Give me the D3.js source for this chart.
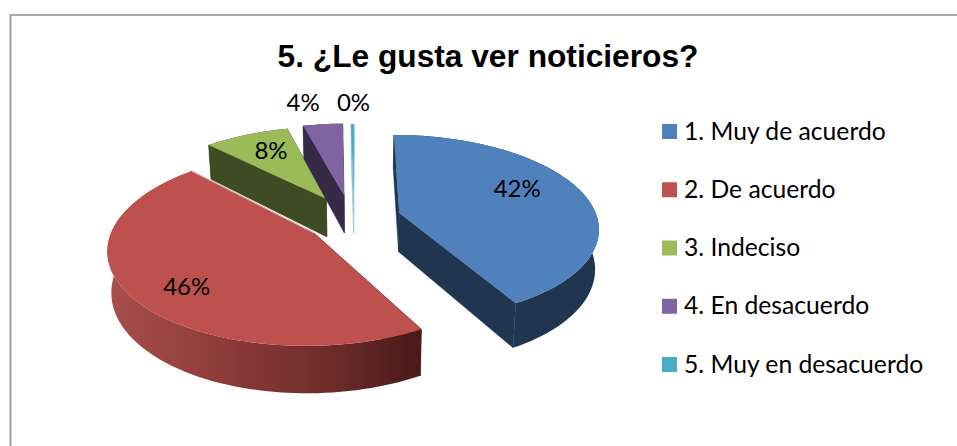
<!DOCTYPE html>
<html>
<head>
<meta charset="utf-8">
<script src="https://cdn.jsdelivr.net/npm/d3@7"></script>
<style>
html, body { margin: 0; padding: 0; background: #fff; overflow: hidden; }
</style>
</head>
<body>
<div id="chart"></div>
<script>
var title = "5. ¿Le gusta ver noticieros?";
var categories = ["1. Muy de acuerdo", "2. De acuerdo", "3. Indeciso", "4. En desacuerdo", "5. Muy en desacuerdo"];
var values = [41.9, 45.9, 8.1, 3.8, 0.3];

var topColors = ["#4f81bd", "#be504d", "#9bbb59", "#8064a2", "#4bacc6"];
var wallColors = ["#1f3550", "url(#redWall)", "#3f4c23", "#352a47", "#8fc3d1"];

var width = 957;
var height = 446;

// the pie is a flat disk seen in perspective, these were fitted by eye
var cx = 358, cy = 224;
var radiusX = 200, radiusY = 90, persp = 0.148, depth = 39.5;
// how far each slice is pulled out, in disk units
var explode = [[0.21, -0.125], [-0.217, 0.098], [-0.165, -0.289], [-0.073, -0.335], [-0.023, -0.33]];
// near slices come out a bit taller than the plain projection gives
var stretch = [1.035, 1.03, 1, 1, 1];
// label place relative to the slice apex, in disk units
var labelAt = [[0.635, -0.29], [-0.56, 0.53], [-0.33, -0.64], [-0.27, -1.35], [-0.005, -1.35]];
var drawOrder = [2, 3, 4, 1, 0];

function project(x, y, z) {
	var s = 1 / (1 - persp * y);
	var lean = 1 - 0.0004 * z; // lower edge pulls in a little
	return [cx + radiusX * x * s * lean, cy + radiusY * y * s + z * s];
}

var svg = d3.select("#chart").append("svg")
	.attr("width", width)
	.attr("height", height)
	.style("display", "block");

var grad = svg.append("defs").append("linearGradient").attr("id", "redWall");
grad.append("stop").attr("offset", "0%").attr("stop-color", "#a84f4c");
grad.append("stop").attr("offset", "40%").attr("stop-color", "#8a3a38");
grad.append("stop").attr("offset", "75%").attr("stop-color", "#692a29");
grad.append("stop").attr("offset", "100%").attr("stop-color", "#481a18");

// chart frame, only top and left show in the picture
svg.append("line").attr("x1", 10).attr("x2", width).attr("y1", 15).attr("y2", 15)
	.attr("stroke", "#8c8c8c").attr("stroke-width", 1.5);
svg.append("line").attr("x1", 10.5).attr("x2", 10.5).attr("y1", 14).attr("y2", height)
	.attr("stroke", "#a0a0a0").attr("stroke-width", 2);

svg.append("text")
	.attr("x", 488).attr("y", 66.5)
	.attr("text-anchor", "middle")
	.attr("font-family", "'Liberation Sans', Arial, sans-serif")
	.attr("font-weight", "bold")
	.attr("font-size", 31.7)
	.attr("fill", "#000")
	.text(title);

var pie = d3.pie().sort(null);
var slices = pie(values);
var line = d3.line();

function rimPoints(d, i, z) {
	var steps = Math.max(2, Math.ceil((d.endAngle - d.startAngle) * 30));
	var pts = [];
	d3.range(steps + 1).forEach(function(k) {
		var a = d.startAngle + (d.endAngle - d.startAngle) * k / steps;
		pts.push(project(explode[i][0] + Math.sin(a), explode[i][1] - Math.cos(a) * stretch[i], z));
	});
	return pts;
}

drawOrder.forEach(function(i) {
	var d = slices[i];
	var rimTop = rimPoints(d, i, 0);
	var rimLow = rimPoints(d, i, depth);
	var last = rimTop.length - 1;
	var apexTop = project(explode[i][0], explode[i][1], 0);
	var apexLow = project(explode[i][0], explode[i][1], depth);
	var cutColor = i == 1 ? "#481a18" : wallColors[i];
	var g = svg.append("g");

	// the two cut walls
	g.append("path")
		.attr("d", line([apexTop, rimTop[0], rimLow[0], apexLow]) + "Z")
		.attr("fill", cutColor).attr("stroke", cutColor).attr("stroke-width", 0.5);
	g.append("path")
		.attr("d", line([apexTop, rimTop[last], rimLow[last], apexLow]) + "Z")
		.attr("fill", cutColor).attr("stroke", cutColor).attr("stroke-width", 0.5);
	// outer wall
	g.append("path")
		.attr("d", line(rimTop.concat(rimLow.slice().reverse())) + "Z")
		.attr("fill", wallColors[i]);
	// top of the slice
	g.append("path")
		.attr("d", line([apexTop].concat(rimTop)) + "Z")
		.attr("fill", topColors[i]);
	// pale seam where the red top sits against the green wall
	if (i == 1) {
		g.append("path")
			.attr("d", line([apexTop, rimTop[last]]))
			.attr("stroke", "#e6dcd6").attr("stroke-width", 0.8).attr("fill", "none");
	}
});

var pct = d3.format(".0f");
var total = d3.sum(values);

slices.forEach(function(d, i) {
	var p = project(explode[i][0] + labelAt[i][0], explode[i][1] + labelAt[i][1], 0);
	svg.append("text")
		.attr("x", p[0]).attr("y", p[1] + 8.5)
		.attr("text-anchor", "middle")
		.attr("font-family", "Lato, sans-serif")
		.attr("font-size", 24)
		.attr("fill", "#000")
		.text(pct(d.value / total * 100) + "%");
});

// legend
var legendY = d3.scalePoint().domain(categories).range([131.5, 364.5]);
var legend = svg.selectAll("g.legend").data(categories).enter().append("g").attr("class", "legend");
legend.append("rect")
	.attr("x", 662)
	.attr("y", function(d) { return legendY(d) - 7.5; })
	.attr("width", 15).attr("height", 15)
	.attr("fill", function(d, i) { return topColors[i]; });
legend.append("text")
	.attr("x", 684)
	.attr("y", function(d) { return legendY(d) + 8; })
	.attr("font-family", "Lato, sans-serif")
	.attr("font-size", 24.7)
	.attr("fill", "#000")
	.text(function(d) { return d; });
</script>
</body>
</html>
